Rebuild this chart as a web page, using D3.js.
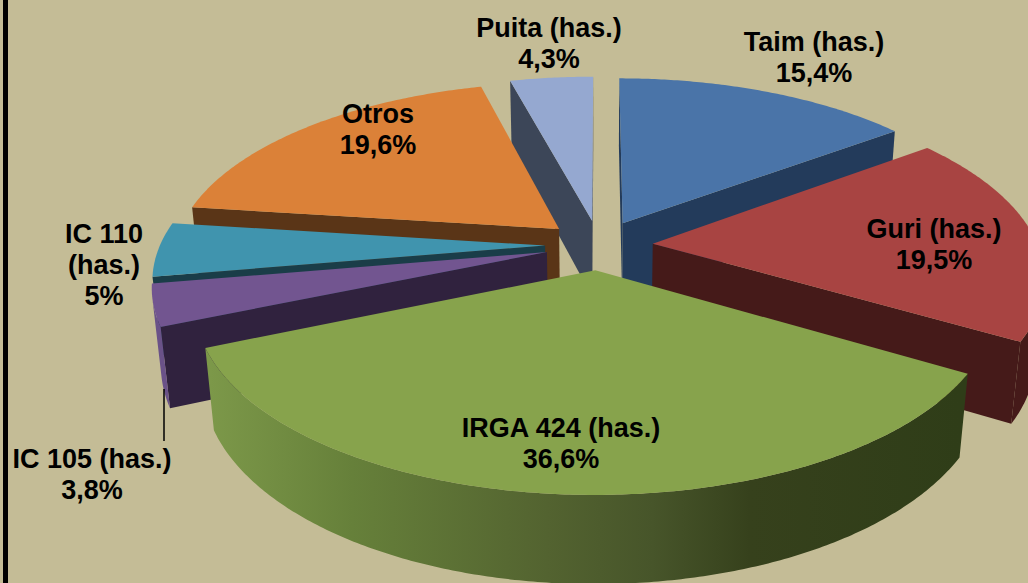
<!DOCTYPE html>
<head>
<meta charset="utf-8">
<script src="https://d3js.org/d3.v7.min.js"></script>
</head>
<style>
html, body { margin: 0; padding: 0; background: #c4bc96; overflow: hidden; }
svg { display: block; }
.label { font-family: "Liberation Sans", Arial, sans-serif; font-weight: bold; font-size: 27px; fill: #000; text-anchor: middle; }
</style>
<body>
<script>
var categories = ["Taim (has.)", "Guri (has.)", "IRGA 424 (has.)", "IC 105 (has.)", "IC 110 (has.)", "Otros", "Puita (has.)"];
var values = [15.4, 19.5, 36.6, 3.8, 5, 19.6, 4.3];
var valueLabels = ["15,4%", "19,5%", "36,6%", "3,8%", "5%", "19,6%", "4,3%"];

var topColors = ["#4a74a8", "#a84442", "#87a34c", "#725590", "#4094ae", "#db8138", "#95a8d0"];
var wallColors = ["#233b5b", "#451a19", "#2f3d18", "#30223e", "#1a3d48", "#5a3517", "#3c4658"];
var rimColors = ["#233b5b", "#451a19", "url(#irgaRim)", "#6a5288", "#1a3d48", "#5a3517", "#3c4658"];

// label layout, centre x and first baseline in page pixels
var labelLines = [
  [categories[0], valueLabels[0]],
  [categories[1], valueLabels[1]],
  [categories[2], valueLabels[2]],
  [categories[3], valueLabels[3]],
  ["IC 110", "(has.)", valueLabels[4]],
  [categories[5], valueLabels[5]],
  [categories[6], valueLabels[6]]
];
var labelX = [814, 934, 561, 92, 104, 378, 549];
var labelY = [51, 238, 437, 468, 243, 123, 37];
var lineGap = 31;

var width = 1028, height = 583;

// camera for the tilted pie
var cx = 599, cy = 245, F = 385, D = 5.2, tilt = 27.3 * Math.PI / 180;
var explode = 0.14, thick = 0.23;

function project(x, y, z) {
  var up = -y * Math.sin(tilt) + z * Math.cos(tilt);
  var w = y * Math.cos(tilt) + z * Math.sin(tilt);
  var s = F * D / (D - w);
  return [cx + s * x, cy - s * up];
}

var pie = d3.pie().sort(null).value(function(d) { return d; });
var slices = pie(values).map(function(d, i) {
  var mid = (d.startAngle + d.endAngle) / 2;
  return {
    i: i,
    a0: d.startAngle,
    a1: d.endAngle,
    ox: explode * Math.sin(mid),
    oy: -explode * Math.cos(mid)
  };
});

function rimPoint(s, a, z) {
  return [s.ox + Math.sin(a), s.oy - Math.cos(a), z];
}
function apexPoint(s, z) {
  return [s.ox, s.oy, z];
}
function toScreen(p) { return project(p[0], p[1], p[2]); }

// true when the outward normal looks at the camera
function facing(px, py, pz, nx, ny) {
  return nx * (0 - px) + ny * (D * Math.cos(tilt) - py) > 0;
}

var line = d3.line();
function closed(points) { return line(points.map(toScreen)) + "Z"; }

var svg = d3.select("body").append("svg")
    .attr("width", width)
    .attr("height", height);

svg.append("rect").attr("width", width).attr("height", height).attr("fill", "#c4bc96");
svg.append("rect").attr("x", 3).attr("width", 5).attr("height", height).attr("fill", "#000");

var grad = svg.append("defs").append("linearGradient")
    .attr("id", "irgaRim")
    .attr("gradientUnits", "userSpaceOnUse")
    .attr("x1", 210).attr("x2", 960).attr("y1", 0).attr("y2", 0);
grad.append("stop").attr("offset", "0").attr("stop-color", "#7c9849");
grad.append("stop").attr("offset", "0.19").attr("stop-color", "#66803a");
grad.append("stop").attr("offset", "0.45").attr("stop-color", "#536330");
grad.append("stop").attr("offset", "0.59").attr("stop-color", "#47552a");
grad.append("stop").attr("offset", "0.72").attr("stop-color", "#36411c");
grad.append("stop").attr("offset", "1").attr("stop-color", "#2f3d18");

// back to front
var order = slices.slice().sort(function(a, b) {
  var ma = (a.a0 + a.a1) / 2, mb = (b.a0 + b.a1) / 2;
  return -Math.cos(ma) - -Math.cos(mb);
});

order.forEach(function(s) {
  var g = svg.append("g");
  var wall = wallColors[s.i];

  // radial walls
  [[s.a0, -1], [s.a1, 1]].forEach(function(e) {
    var a = e[0], dir = e[1];
    var nx = dir * Math.cos(a), ny = dir * Math.sin(a);
    if (!facing(s.ox, s.oy, 0, nx, ny)) return;
    g.append("path")
      .attr("d", closed([apexPoint(s, 0), rimPoint(s, a, 0), rimPoint(s, a, -thick), apexPoint(s, -thick)]))
      .attr("fill", wall);
  });

  // outer rim, only where it faces the camera
  var angles = d3.range(s.a0, s.a1, 0.01).concat([s.a1]).filter(function(a) {
    var p = rimPoint(s, a, 0);
    return facing(p[0], p[1], 0, Math.sin(a), -Math.cos(a));
  });
  if (angles.length > 1) {
    var upper = angles.map(function(a) { return rimPoint(s, a, 0); });
    var lower = angles.map(function(a) { return rimPoint(s, a, -thick); }).reverse();
    g.append("path")
      .attr("d", closed(upper.concat(lower)))
      .attr("fill", rimColors[s.i]);
  }

  // top face
  var arc = d3.range(s.a0, s.a1, 0.01).concat([s.a1]).map(function(a) { return rimPoint(s, a, 0); });
  g.append("path")
    .attr("d", closed([apexPoint(s, 0)].concat(arc)))
    .attr("fill", topColors[s.i]);
});

// leader for IC 105
svg.append("line")
    .attr("x1", 164).attr("x2", 164)
    .attr("y1", 389).attr("y2", 441)
    .attr("stroke", "#000")
    .attr("stroke-width", 1.5);

labelLines.forEach(function(lines, i) {
  var t = svg.append("text").attr("class", "label");
  lines.forEach(function(txt, j) {
    t.append("tspan")
      .attr("x", labelX[i])
      .attr("y", labelY[i] + j * lineGap)
      .text(txt);
  });
});
</script>
</body>
